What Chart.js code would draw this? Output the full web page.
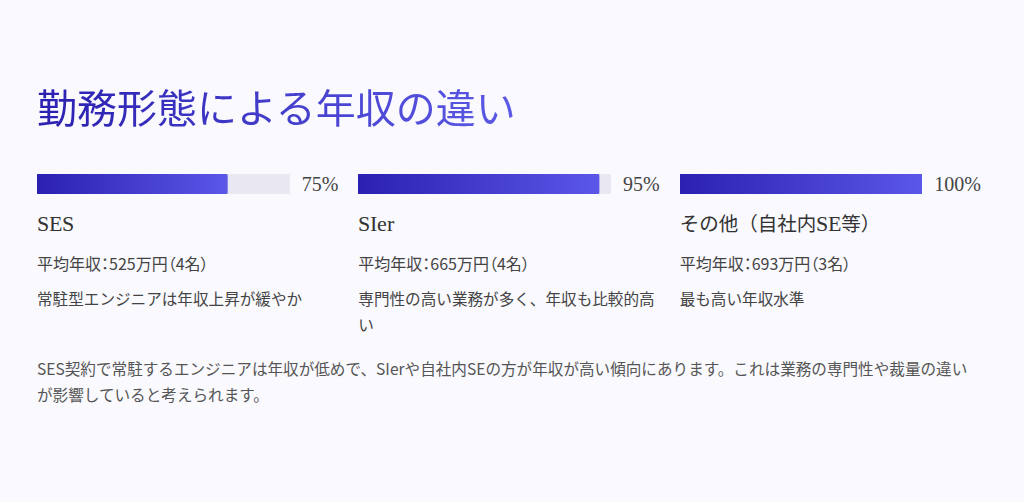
<!DOCTYPE html>
<html lang="ja">
<head>
<meta charset="utf-8">
<title>勤務形態による年収の違い</title>
<script src="https://cdn.jsdelivr.net/npm/chart.js@4.4.1/dist/chart.umd.min.js"></script>
<style>
  @font-face {
    font-family: "LabelSerif";
    src: local("Liberation Serif");
    size-adjust: 112%;
  }
  html, body {
    margin: 0;
    padding: 0;
    width: 1024px;
    height: 502px;
    overflow: hidden;
    background: #f9f9fe;
    font-family: "Noto Sans CJK JP", "Noto Sans", sans-serif;
  }
  .title {
    position: absolute;
    left: 37px;
    top: 82px;
    margin: 0;
    font-size: 40px;
    line-height: 48px;
    font-weight: 400;
    background: linear-gradient(90deg, #2b20b0, #5c5ae6);
    -webkit-background-clip: text;
    background-clip: text;
    color: transparent;
  }
  .grid {
    position: absolute;
    left: 37px;
    top: 174px;
    width: 944px;
    display: grid;
    grid-template-columns: repeat(3, minmax(0, 1fr));
    column-gap: 20px;
  }
  .col {
    min-width: 0;
  }
  .bar-row {
    display: flex;
    align-items: center;
    height: 20px;
  }
  .bar-box {
    position: relative;
    flex: 1 1 0;
    min-width: 0;
    height: 20px;
  }
  .pct {
    margin-left: 12px;
    font-family: "Liberation Serif", serif;
    font-size: 20px;
    color: #444;
  }
  .label {
    margin-top: 17px;
    font-family: "LabelSerif", "Noto Sans CJK JP", serif;
    font-size: 19.5px;
    line-height: 26px;
    color: #333;
  }
  .stats {
    margin-top: 13px;
    font-size: 16px;
    line-height: 26px;
    color: #444;
    font-feature-settings: "palt";
  }
  .note {
    margin-top: 9px;
    font-size: 15.6px;
    line-height: 26px;
    color: #444;
  }
  .summary {
    position: absolute;
    left: 37px;
    top: 355px;
    width: 944px;
    margin: 0;
    font-size: 15.6px;
    line-height: 26px;
    color: #555;
  }
</style>
</head>
<body>
<h1 class="title">勤務形態による年収の違い</h1>
<div class="grid" id="grid"></div>
<p class="summary">SES契約で常駐するエンジニアは年収が低めで、SIerや自社内SEの方が年収が高い傾向にあります。これは業務の専門性や裁量の違いが影響していると考えられます。</p>

<script>
// Data
const categories = ["SES", "SIer", "その他（自社内SE等）"];
const percents = [75, 95, 100];
const salaries = [525, 665, 693];
const headcounts = [4, 4, 3];
const notes = [
  "常駐型エンジニアは年収上昇が緩やか",
  "専門性の高い業務が多く、年収も比較的高い",
  "最も高い年収水準",
];
const maxPercent = 100;

/**
 * Gradient fill for the progress part of each bar
 */
function barGradient(context) {
  const chart = context.chart;
  const area = chart.chartArea;
  if (!area) return "#4a44d6";
  const xScale = chart.scales.x;
  const end = xScale ? xScale.getPixelForValue(context.raw) : area.right;
  const g = chart.ctx.createLinearGradient(area.left, 0, Math.max(end, area.left + 1), 0);
  g.addColorStop(0, "#2b20b2");
  g.addColorStop(1, "#5b57e8");
  return g;
}

/**
 * Build one column: bar chart + texts
 */
function buildColumn(i) {
  const grid = document.getElementById("grid");
  const col = document.createElement("div");
  col.className = "col";
  col.innerHTML = `
    <div class="bar-row">
      <div class="bar-box"><canvas id="bar${i}"></canvas></div>
      <span class="pct">${percents[i]}%</span>
    </div>
    <div class="label">${categories[i]}</div>
    <div class="stats">平均年収：${salaries[i]}万円（${headcounts[i]}名）</div>
    <div class="note">${notes[i]}</div>
  `;
  grid.appendChild(col);

  new Chart(document.getElementById("bar" + i), {
    type: "bar",
    data: {
      labels: [categories[i]],
      datasets: [
        {
          data: [percents[i]],
          backgroundColor: barGradient,
          borderRadius: 2,
          borderSkipped: false,
          barPercentage: 1,
          categoryPercentage: 1,
          grouped: false,
        },
        {
          data: [maxPercent],
          backgroundColor: "#e8e7f2",
          borderRadius: 2,
          borderSkipped: false,
          barPercentage: 1,
          categoryPercentage: 1,
          grouped: false,
        },
      ],
    },
    options: {
      indexAxis: "y",
      responsive: true,
      maintainAspectRatio: false,
      animation: false,
      layout: { padding: 0 },
      plugins: {
        legend: { display: false },
        tooltip: { enabled: false },
      },
      scales: {
        x: { min: 0, max: maxPercent, display: false },
        y: { display: false },
      },
    },
  });
}

categories.forEach((_, i) => buildColumn(i));
</script>
</body>
</html>
